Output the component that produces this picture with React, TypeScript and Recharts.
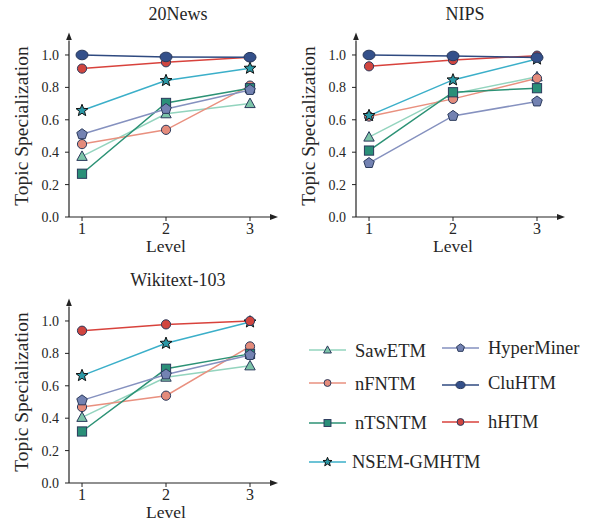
import { LineChart, Line, XAxis, YAxis } from "recharts";

// x positions
const levels = [1, 2, 3];
const yTicks = [0, 0.2, 0.4, 0.6, 0.8, 1.0];

// 20News
const news20SawETM = [0.374, 0.637, 0.70];
const news20nFNTM = [0.45, 0.538, 0.811];
const news20nTSNTM = [0.267, 0.704, 0.795];
const news20HyperMiner = [0.511, 0.667, 0.784];
const news20NSEM = [0.657, 0.842, 0.918];
const news20hHTM = [0.916, 0.955, 0.986];
const news20CluHTM = [1.0, 0.988, 0.986];

// NIPS
const nipsSawETM = [0.493, 0.76, 0.865];
const nipsnFNTM = [0.62, 0.729, 0.856];
const nipsnTSNTM = [0.41, 0.77, 0.795];
const nipsHyperMiner = [0.333, 0.624, 0.713];
const nipsNSEM = [0.626, 0.846, 0.975];
const nipshHTM = [0.93, 0.969, 0.996];
const nipsCluHTM = [1.0, 0.994, 0.984];

// Wikitext-103 (no CluHTM)
const wikiSawETM = [0.405, 0.653, 0.723];
const wikinFNTM = [0.469, 0.539, 0.843];
const wikinTSNTM = [0.318, 0.705, 0.797];
const wikiHyperMiner = [0.51, 0.67, 0.79];
const wikiNSEM = [0.663, 0.862, 0.994];
const wikihHTM = [0.94, 0.979, 1.0];

type Shape = "triangle" | "circle" | "square" | "star" | "pentagon" | "ellipse" | "dot";

// drawing order (later = on top)
const series: { name: string; color: string; fill: string; shape: Shape }[] = [
  { name: "SawETM", color: "#93d4be", fill: "#7cc4a8", shape: "triangle" },
  { name: "nFNTM", color: "#e9907f", fill: "#e48b7b", shape: "circle" },
  { name: "nTSNTM", color: "#2c9275", fill: "#2a8f78", shape: "square" },
  { name: "HyperMiner", color: "#8591bf", fill: "#7382b2", shape: "pentagon" },
  { name: "NSEM-GMHTM", color: "#3bafc9", fill: "#2a98a6", shape: "star" },
  { name: "hHTM", color: "#d8423c", fill: "#d1453f", shape: "dot" },
  { name: "CluHTM", color: "#2f4a80", fill: "#34508a", shape: "ellipse" },
];

const panels = [
  {
    title: "20News", left: 0, top: 0,
    values: {
      SawETM: news20SawETM, nFNTM: news20nFNTM, nTSNTM: news20nTSNTM, HyperMiner: news20HyperMiner,
      "NSEM-GMHTM": news20NSEM, hHTM: news20hHTM, CluHTM: news20CluHTM,
    } as Record<string, number[]>,
  },
  {
    title: "NIPS", left: 287, top: 0,
    values: {
      SawETM: nipsSawETM, nFNTM: nipsnFNTM, nTSNTM: nipsnTSNTM, HyperMiner: nipsHyperMiner,
      "NSEM-GMHTM": nipsNSEM, hHTM: nipshHTM, CluHTM: nipsCluHTM,
    } as Record<string, number[]>,
  },
  {
    title: "Wikitext-103", left: 0, top: 266,
    values: {
      SawETM: wikiSawETM, nFNTM: wikinFNTM, nTSNTM: wikinTSNTM, HyperMiner: wikiHyperMiner,
      "NSEM-GMHTM": wikiNSEM, hHTM: wikihHTM,
    } as Record<string, number[]>,
  },
];

const EDGE = "#2b3a5c";
const TEXT = "#262626";
const FONT = "'Liberation Serif', serif";

function marker(shape: Shape, x: number, y: number, k: number, fill: string, key?: string) {
  const stroke = shape === "star" ? "#111" : EDGE;
  const common = { fill, stroke, strokeWidth: 1 };
  if (shape === "triangle") {
    const pts = `${x},${y - 5.5 * k} ${x - 5.2 * k},${y + 4 * k} ${x + 5.2 * k},${y + 4 * k}`;
    return <polygon key={key} points={pts} {...common} />;
  }
  if (shape === "square") {
    return <rect key={key} x={x - 4.6 * k} y={y - 4.6 * k} width={9.2 * k} height={9.2 * k} {...common} />;
  }
  if (shape === "ellipse") {
    return <ellipse key={key} cx={x} cy={y} rx={6 * k} ry={4.8 * k} {...common} />;
  }
  if (shape === "star" || shape === "pentagon") {
    const n = shape === "star" ? 10 : 5;
    const pts: string[] = [];
    for (let i = 0; i < n; i++) {
      const r = shape === "star" ? (i % 2 === 0 ? 6.3 * k : 2.7 * k) : 5.5 * k;
      const a = -Math.PI / 2 + (i * 2 * Math.PI) / n;
      pts.push(`${x + r * Math.cos(a)},${y + r * Math.sin(a)}`);
    }
    return <polygon key={key} points={pts.join(" ")} {...common} />;
  }
  return <circle key={key} cx={x} cy={y} r={4.6 * k} {...common} />;
}

function Panel({ p }: { p: (typeof panels)[number] }) {
  const data = levels.map((level, i) => {
    const row: Record<string, number> = { level };
    for (const s of series) if (p.values[s.name]) row[s.name] = p.values[s.name][i];
    return row;
  });
  return (
    <div style={{ position: "absolute", left: p.left, top: p.top }}>
      <LineChart width={290} height={256} data={data} margin={{ top: 40.4, right: 20, left: 29, bottom: 19 }}>
        <XAxis
          dataKey="level"
          type="number"
          domain={[0.845, 3.238]}
          ticks={levels}
          height={20}
          tickSize={4}
          tickMargin={2}
          axisLine={{ stroke: "#222", strokeWidth: 1.2, markerEnd: "url(#axArrow)" }}
          tickLine={{ stroke: "#222" }}
          tick={{ fontSize: 16, fill: TEXT }}
        />
        <YAxis
          type="number"
          domain={[0, 1.09]}
          ticks={yTicks}
          width={40}
          tickSize={4}
          tickMargin={6}
          tickFormatter={(v: number) => v.toFixed(1)}
          axisLine={{ stroke: "#222", strokeWidth: 1.2, markerStart: "url(#axArrow)" }}
          tickLine={{ stroke: "#222" }}
          tick={{ fontSize: 14, fill: TEXT }}
        />
        {series
          .filter((s) => p.values[s.name])
          .map((s) => (
            <Line
              key={s.name}
              dataKey={s.name}
              stroke={s.color}
              strokeWidth={1.5}
              isAnimationActive={false}
              activeDot={false}
              dot={(d: any) => marker(s.shape, d.cx, d.cy, 1, s.fill, `${s.name}-${d.index}`)}
            />
          ))}
      </LineChart>
    </div>
  );
}

const legendItems = [
  { name: "SawETM", x: 309, y: 350, by: 357 },
  { name: "nFNTM", x: 309, y: 383, by: 390 },
  { name: "nTSNTM", x: 309, y: 423, by: 429 },
  { name: "NSEM-GMHTM", x: 309, y: 462, by: 468 },
  { name: "HyperMiner", x: 442, y: 348, by: 354 },
  { name: "CluHTM", x: 442, y: 385, by: 389 },
  { name: "hHTM", x: 442, y: 422, by: 428 },
];

export default function App() {
  return (
    <div style={{ position: "absolute", left: 0, top: 0, width: 595, height: 524, background: "#fff", fontFamily: FONT }}>
      <svg width={0} height={0} style={{ position: "absolute" }}>
        <defs>
          <marker id="axArrow" viewBox="0 0 8 6" refX={0} refY={3} markerWidth={8} markerHeight={6}
            markerUnits="userSpaceOnUse" orient="auto-start-reverse">
            <path d="M0,0 L8,3 L0,6 z" fill="#222" />
          </marker>
        </defs>
      </svg>
      {panels.map((p) => (
        <Panel key={p.title} p={p} />
      ))}
      <svg width={595} height={524} style={{ position: "absolute", left: 0, top: 0, pointerEvents: "none" }}
        fontFamily={FONT} fill={TEXT}>
        {panels.map((p) => (
          <g key={p.title}>
            <text x={p.left + 178} y={p.top + 20} fontSize={18} textAnchor="middle">
              {p.title}
            </text>
            <text x={p.left + 166} y={p.top + 252} fontSize={17.5} textAnchor="middle">Level</text>
            <text x={p.left + 28} y={p.top + 126} fontSize={19.5} textAnchor="middle"
              transform={`rotate(-90 ${p.left + 28} ${p.top + 126})`}>
              Topic Specialization
            </text>
          </g>
        ))}
        {legendItems.map((it) => {
          const s = series.find((q) => q.name === it.name)!;
          return (
            <g key={it.name}>
              <line x1={it.x} x2={it.x + 37} y1={it.y} y2={it.y} stroke={s.color} strokeWidth={1.5} />
              {marker(s.shape, it.x + 18.5, it.y, 0.75, s.fill)}
              <text x={it.x + (it.name === "NSEM-GMHTM" ? 43 : 46)} y={it.by} fontSize={18.5}>{it.name}</text>
            </g>
          );
        })}
      </svg>
    </div>
  );
}
